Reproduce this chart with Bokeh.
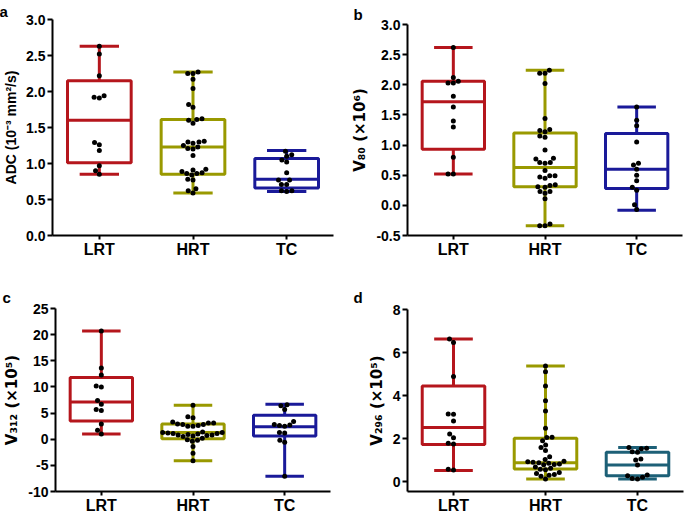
import numpy as np
from bokeh.plotting import figure
from bokeh.models import Range1d, FixedTicker, NumeralTickFormatter
from bokeh.layouts import column, row
from bokeh.embed import file_html
from bokeh.resources import INLINE

groups = ["LRT", "HRT", "TC"]

# ---- panel a: ADC ----
adc_lrt = [2.63, 2.52, 2.22, 1.94, 1.92, 1.91, 1.29, 1.26, 1.18, 0.97, 0.90, 0.85]
adc_hrt = [2.27, 2.25, 2.25, 2.17, 2.04, 1.82, 1.78, 1.62, 1.61, 1.60, 1.56, 1.31, 1.30, 1.30,
           1.28, 1.25, 1.23, 1.21, 1.20, 1.11, 0.92, 0.91, 0.89, 0.87, 0.86, 0.86, 0.84, 0.78,
           0.77, 0.65, 0.62, 0.59]
adc_tc = [1.17, 1.12, 1.10, 1.05, 1.02, 0.87, 0.77, 0.77, 0.71, 0.71, 0.62, 0.62, 0.61]
# box stats: min, q1, median, q3, max
adc_box = [[0.85, 1.01, 1.60, 2.15, 2.63], [0.59, 0.85, 1.23, 1.61, 2.27], [0.61, 0.66, 0.78, 1.07, 1.18]]
adc_ticks = [0.0, 0.5, 1.0, 1.5, 2.0, 2.5, 3.0]

# ---- panel b: V80 ----
v80_lrt = [2.62, 2.12, 2.06, 2.03, 2.03, 1.81, 1.63, 1.40, 1.30, 0.80, 0.52, 0.52]
v80_hrt = [2.24, 2.19, 2.19, 2.02, 1.44, 1.26, 1.24, 1.22, 1.15, 1.13, 0.92, 0.78, 0.77, 0.71,
           0.71, 0.70, 0.58, 0.49, 0.49, 0.47, 0.45, 0.34, 0.33, 0.31, 0.30, 0.23, 0.23, 0.20,
           0.11, -0.31, -0.34, -0.34]
v80_tc = [1.63, 1.41, 1.32, 1.05, 0.70, 0.67, 0.60, 0.50, 0.41, 0.30, 0.25, 0.01, -0.07]
v80_box = [[0.52, 0.93, 1.72, 2.06, 2.62], [-0.34, 0.31, 0.63, 1.20, 2.24], [-0.08, 0.28, 0.60, 1.19, 1.63]]
v80_ticks = [-0.5, 0.0, 0.5, 1.0, 1.5, 2.0, 2.5, 3.0]

# ---- panel c: V312 ----
v312_lrt = [20.7, 13.6, 12.3, 10.2, 10.0, 7.4, 6.7, 5.7, 5.5, 2.9, 1.7, 1.0]
v312_hrt = [6.5, 4.3, 4.1, 3.3, 3.1, 3.1, 2.9, 2.8, 2.8, 2.6, 2.5, 2.5, 1.4, 1.3, 1.3, 1.2, 1.1,
            1.1, 1.0, 0.9, 0.8, 0.8, 0.7, 0.6, 0.5, 0.2, -0.1, -0.2, -0.4, -1.4, -2.7, -4.1]
v312_tc = [6.6, 6.4, 5.7, 3.4, 2.8, 2.7, 2.6, 2.5, 1.3, 1.2, -0.2, -0.6, -7.1]
v312_box = [[1.0, 3.5, 7.1, 11.8, 20.7], [-4.1, 0.1, 1.3, 2.9, 6.5], [-7.1, 0.6, 2.4, 4.6, 6.7]]
v312_ticks = [-10, -5, 0, 5, 10, 15, 20, 25]

# ---- panel d: V296 ----
v296_lrt = [6.63, 6.47, 4.88, 3.14, 3.13, 2.82, 2.21, 2.04, 1.78, 1.75, 0.57, 0.54]
v296_hrt = [5.37, 5.11, 4.44, 3.76, 3.28, 2.48, 2.06, 2.05, 1.90, 1.70, 1.58, 1.45, 1.16, 1.03,
            0.95, 0.92, 0.90, 0.88, 0.85, 0.82, 0.80, 0.78, 0.68, 0.62, 0.58, 0.55, 0.42, 0.38,
            0.33, 0.30, 0.25, 0.12]
v296_tc = [1.58, 1.55, 1.53, 1.39, 1.36, 1.05, 1.00, 0.77, 0.31, 0.27, 0.20, 0.15, 0.12]
v296_box = [[0.52, 1.73, 2.51, 4.44, 6.63], [0.12, 0.59, 0.88, 2.01, 5.37], [0.12, 0.27, 0.77, 1.37, 1.58]]
v296_ticks = [0, 2, 4, 6, 8]

RED = "#B5161C"
OLIVE = "#999900"
NAVY = "#1A1A99"
TEAL = "#1D6077"
FONT = "Liberation Sans"


def swarm(vals, sy, sx, d):
    """Deterministic beeswarm offsets (in data x units)."""
    idx = sorted(range(len(vals)), key=lambda i: vals[i])
    placed = []
    offs = [0.0] * len(vals)
    for i in idx:
        y = vals[i] * sy
        ivs = []
        for (px, py) in placed:
            dy = abs(y - py)
            if dy < d:
                w = (d * d - dy * dy) ** 0.5
                ivs.append((px - w, px + w))
        cands = [0.0] + [a for a, b in ivs] + [b for a, b in ivs]
        cands.sort(key=lambda c: (abs(c), c))
        x = 0.0
        for c in cands:
            if all(not (a + 1e-6 < c < b - 1e-6) for a, b in ivs):
                x = c
                break
        placed.append((x, y))
        offs[i] = x / sx
    return offs


def panel(w, h, bl, br, bt, bb, yr, ticks, fmt, ylabel, lfont, lsize, series, boxes, colors,
          letter, loff, lstand):
    p = figure(width=w, height=h, x_range=Range1d(0, 3), y_range=Range1d(*yr),
               output_backend="svg", toolbar_location=None,
               min_border_left=bl, min_border_right=br, min_border_top=bt, min_border_bottom=bb)
    p.outline_line_color = None
    p.grid.visible = False
    p.background_fill_color = "white"

    p.title.text = letter
    p.title.align = "left"
    p.title.offset = loff
    p.title.standoff = lstand
    p.title.text_font = FONT
    p.title.text_font_style = "bold"
    p.title.text_font_size = "15px"
    p.title.text_color = "black"

    centers = [i + 0.5 for i in range(len(groups))]
    p.xaxis.ticker = FixedTicker(ticks=centers)
    p.xaxis.major_label_overrides = {c: g for c, g in zip(centers, groups)}
    p.yaxis.ticker = FixedTicker(ticks=ticks)
    p.yaxis.formatter = NumeralTickFormatter(format=fmt)
    for ax in (p.xaxis[0], p.yaxis[0]):
        ax.axis_line_width = 2
        ax.axis_line_color = "black"
        ax.major_tick_line_width = 2
        ax.major_tick_line_color = "black"
        ax.major_tick_out = 5
        ax.major_tick_in = 0
        ax.minor_tick_line_color = None
        ax.major_label_text_font = FONT
        ax.major_label_text_font_style = "bold"
        ax.major_label_text_color = "black"
        ax.major_label_standoff = 2
    p.xaxis.major_tick_out = 4
    p.xaxis.major_label_standoff = 1
    p.xaxis.major_label_text_font_size = "16px"
    p.yaxis.major_label_text_font_size = "14px"
    p.yaxis.axis_label = ylabel
    p.yaxis.axis_label_text_font = lfont
    p.yaxis.axis_label_text_font_style = "bold"
    p.yaxis.axis_label_text_font_size = lsize
    p.yaxis.axis_label_text_color = "black"
    p.yaxis.axis_label_standoff = 4

    fw = w - bl - br
    fh = h - bt - bb
    sx = fw / 3.0
    sy = fh / (yr[1] - yr[0])

    box_w = 0.68
    cap_w = 0.42
    for c, (mn, q1, md, q3, mx), col in zip(centers, boxes, colors):
        p.segment(x0=[c, c], y0=[mn, q3], x1=[c, c], y1=[q1, mx], line_color=col, line_width=3)
        p.segment(x0=[c - cap_w / 2] * 2, y0=[mn, mx], x1=[c + cap_w / 2] * 2, y1=[mn, mx],
                  line_color=col, line_width=3)
        p.vbar(x=[c], width=box_w, bottom=[q1], top=[q3], fill_color="white", fill_alpha=0,
               line_color=col, line_width=3)
        p.segment(x0=[c - box_w / 2], y0=[md], x1=[c + box_w / 2], y1=[md], line_color=col, line_width=3)
    for c, vals in zip(centers, series):
        offs = swarm(vals, sy, sx, 5.3)
        p.scatter(x=[c + o for o in offs], y=vals, size=5, fill_color="black", line_color=None)
    return p


pa = panel(340, 260, 50, 7, 15, 24, (0, 3.0), adc_ticks, "0.0", "ADC (10⁻³ mm²/s)", FONT, "14px",
           [adc_lrt, adc_hrt, adc_tc], adc_box, [RED, OLIVE, NAVY], "a", -53, 0)
pb = panel(344, 260, 67, 2, 24, 24, (-0.5, 3.0), v80_ticks, "0.0", "V₈₀ (×10⁶)", "DejaVu Sans", "15px",
           [v80_lrt, v80_hrt, v80_tc], v80_box, [RED, OLIVE, NAVY], "b", -54, 3)
pc = panel(340, 256, 52, 10, 48, 24, (-10, 25), v312_ticks, "0", "V₃₁₂ (×10⁵)", "DejaVu Sans", "15px",
           [v312_lrt, v312_hrt, v312_tc], v312_box, [RED, OLIVE, NAVY], "c", -53, 6)
pd = panel(344, 256, 67, 1, 49, 24, (-0.46, 8), v296_ticks, "0", "V₂₉₆ (×10⁵)", "DejaVu Sans", "15px",
           [v296_lrt, v296_hrt, v296_tc], v296_box, [RED, OLIVE, TEAL], "d", -54, 7)

layout = column(row(column(pa), column(pb)), row(column(pc), column(pd)))
open("out.html", "w").write(file_html(layout, INLINE))
